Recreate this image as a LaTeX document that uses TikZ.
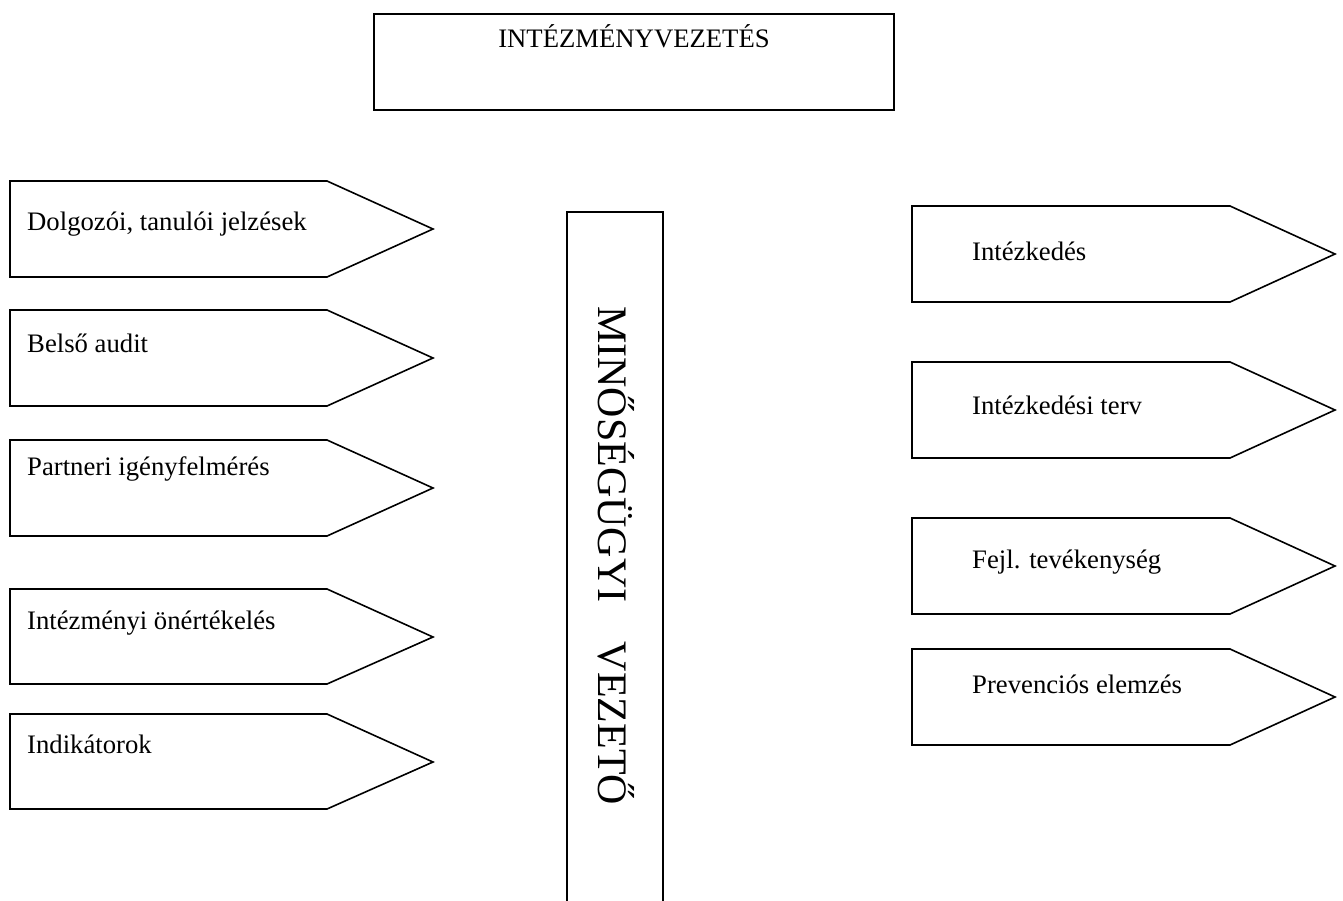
\documentclass[tikz,border=0pt]{standalone}
\usepackage{fontspec}
\setmainfont{Liberation Serif}
\tikzset{
  shp/.style={draw=black, line width=1.6pt, line join=miter},
  lbl/.style={anchor=base west, inner sep=0pt, font=\fontsize{26.7}{32}\selectfont},
  vlbl/.style={anchor=base west, inner sep=0pt, rotate=-90, font=\fontsize{42}{50}\selectfont}
}
\begin{document}
\begin{tikzpicture}[x=1pt,y=-1pt]
\useasboundingbox (0,0) rectangle (1343,900);
% top box
\draw[shp] (374,14) rectangle (894,110);
\node[anchor=base, inner sep=0pt, font=\fontsize{26.7}{32}\selectfont] (top) at (634,47) {INTÉZMÉNYVEZETÉS};
% vertical box
\draw[shp] (567,905) -- (567,212) -- (663,212) -- (663,905);
\node[vlbl] (qm) at (598,306) {MINŐSÉGÜGYI\hspace{0.94em}VEZETŐ};
% left signposts
\foreach \t/\b/\m in {181/277/229, 310/406/358, 440/536/488, 589/684/637, 714/809/762}{
  \draw[shp] (10,\t) -- (327,\t) -- (433,\m) -- (327,\b) -- (10,\b) -- cycle;
}
\node[lbl] (l1) at (27,230) {Dolgozói, tanulói jelzések};
\node[lbl] (l2) at (27,352) {Belső audit};
\node[lbl] (l3) at (27,475) {Partneri igényfelmérés};
\node[lbl] (l4) at (27,629) {Intézményi önértékelés};
\node[lbl] (l5) at (27,753) {Indikátorok};
% right signposts
\foreach \t/\b/\m in {206/302/254, 362/458/410, 518/614/566, 649/745/697}{
  \draw[shp] (912,\t) -- (1230,\t) -- (1335,\m) -- (1230,\b) -- (912,\b) -- cycle;
}
\node[lbl] (r1) at (972,260) {Intézkedés};
\node[lbl] (r2) at (972,414) {Intézkedési terv};
\node[lbl] (r3) at (972,568) {Fejl. tevékenység};
\node[lbl] (r4) at (972,693) {Prevenciós elemzés};
\end{tikzpicture}
\end{document}
